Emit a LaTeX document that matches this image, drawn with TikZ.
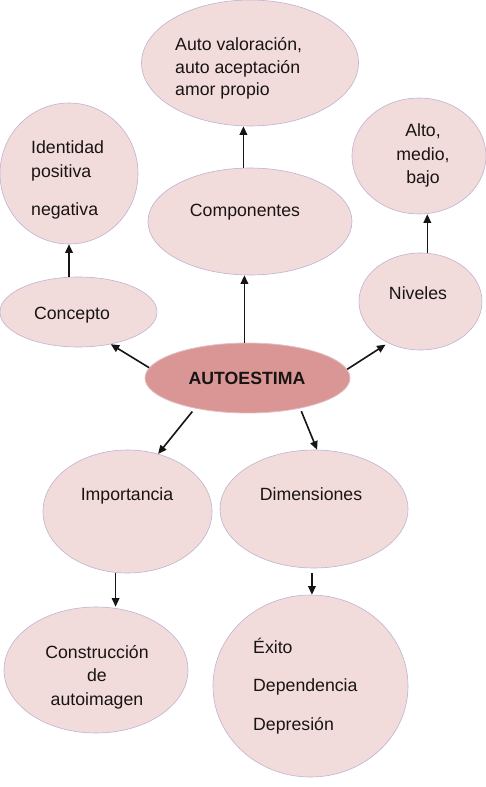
\documentclass[tikz,border=0pt]{standalone}
\usepackage{fontspec}
\setmainfont{Liberation Sans}
\usetikzlibrary{shapes.geometric,arrows.meta}
\definecolor{bubble}{HTML}{F2DCDB}
\definecolor{core}{HTML}{D99694}
\definecolor{rim}{RGB}{192,178,208}
\definecolor{corerim}{RGB}{226,190,196}
\definecolor{ink}{RGB}{25,20,20}
\begin{document}
\begin{tikzpicture}[x=1pt,y=-1pt,
  bub/.style={ellipse,fill=bubble,draw=rim,line width=0.6pt,inner sep=0pt},
  lbl/.style={inner sep=0pt,text=ink,font=\fontsize{17.7}{23}\selectfont,anchor=base},
  lbll/.style={lbl,anchor=base west},
  arr/.style={draw=ink,line width=1.6pt,-{Triangle[length=8.5pt,width=7.5pt]}}]
\useasboundingbox (0,0) rectangle (486,787);
\fill[white] (0,0) rectangle (486,787);

% bubbles
\node[bub,minimum width=217pt,minimum height=126pt] (auto) at (250,63) {};
\node[bub,minimum width=138pt,minimum height=141pt] (ident) at (69,173.5) {};
\node[bub,minimum width=157pt,minimum height=70pt] (conc) at (78.5,312) {};
\node[bub,minimum width=204pt,minimum height=107pt] (comp) at (250,221.5) {};
\node[bub,minimum width=134pt,minimum height=116pt] (alto) at (419,156) {};
\node[bub,minimum width=123pt,minimum height=97pt] (niv) at (420.5,301.5) {};
\node[bub,minimum width=169pt,minimum height=123pt] (imp) at (127.5,511.5) {};
\node[bub,minimum width=188pt,minimum height=118pt] (dim) at (314,509) {};
\node[bub,minimum width=184pt,minimum height=126pt] (constr) at (96,670) {};
\node[bub,minimum width=195pt,minimum height=182pt] (exito) at (310.5,686) {};
\node[ellipse,fill=core,draw=corerim,line width=0.8pt,inner sep=0pt,
      minimum width=205pt,minimum height=70pt] (ae) at (247.5,378) {};

% labels
\node[lbll] (auto1) at (175,50.5) {Auto valoración,};
\node[lbll] (auto2) at (175,73) {auto aceptación};
\node[lbll] (auto3) at (175,95.5) {amor propio};
\node[lbll] (ident1) at (31,153.3) {Identidad};
\node[lbll] (ident2) at (31,177.3) {positiva};
\node[lbll] (ident3) at (31,215.3) {negativa};
\node[lbl] (conct) at (72,319) {Concepto};
\node[lbl] (compt) at (245,216.5) {Componentes};
\node[lbl] (alto1) at (423,136.7) {Alto,};
\node[lbl] (alto2) at (423,160.7) {medio,};
\node[lbl] (alto3) at (423,183.3) {bajo};
\node[lbl] (nivt) at (418,299.3) {Niveles};
\node[lbl,font=\fontsize{17.7}{23}\selectfont\bfseries] (aet) at (247,384.3) {AUTOESTIMA};
\node[lbl] (impt) at (127,500.7) {Importancia};
\node[lbl] (dimt) at (311,500.7) {Dimensiones};
\node[lbl] (constr1) at (97,658.3) {Construcción};
\node[lbl] (constr2) at (97,681.7) {de};
\node[lbl] (constr3) at (97,705) {autoimagen};
\node[lbll] (exito1) at (253,653.3) {Éxito};
\node[lbll] (exito2) at (253,691.7) {Dependencia};
\node[lbll] (exito3) at (253,730) {Depresión};

% connectors
\draw[arr] (ae.174) -- (conc.-45);
\draw[arr] (ae.95) -- (ae.95 |- comp.south);
\draw[arr,shorten >=3pt] (ae.5) -- (niv.-128);
\draw[arr,shorten <=4pt] (ae.-150) -- (imp.62);
\draw[arr,shorten <=3pt] (ae.-30) -- (dim.87);
\draw[arr] (ident.south |- conc.north) -- (ident.south);
\draw[arr] (comp.97.5) -- (comp.97.5 |- auto.south);
\draw[arr] (niv.82) -- (niv.82 |- alto.south);
\draw[arr] (imp.-101) -- (imp.-101 |- constr.north);
\draw[arr,shorten <=5pt] (dim.-92) -- (dim.-92 |- exito.north);
\end{tikzpicture}
\end{document}
